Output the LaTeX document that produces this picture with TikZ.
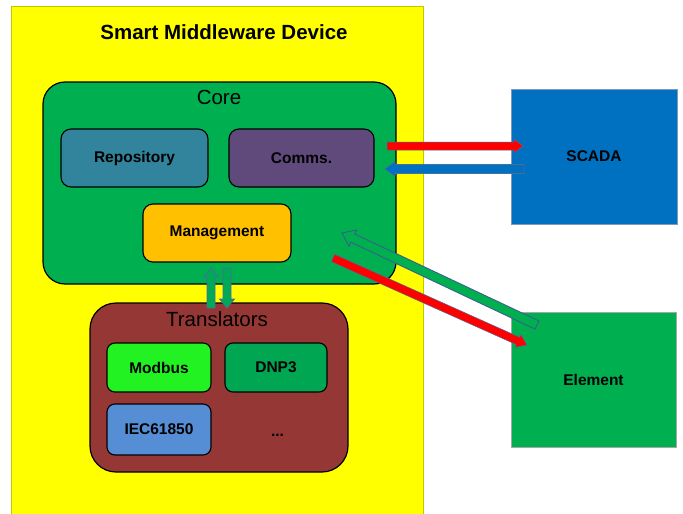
\documentclass[tikz,border=0pt]{standalone}
\usepackage{fontspec}
\setmainfont{Liberation Sans}
\usetikzlibrary{calc}

\definecolor{devyellow}{HTML}{FFFF00}
\definecolor{devedge}{HTML}{C4C400}
\definecolor{coregreen}{HTML}{00B050}
\definecolor{repoteal}{HTML}{31849B}
\definecolor{commspurple}{HTML}{604A7B}
\definecolor{mgmtorange}{HTML}{FFC000}
\definecolor{transbrown}{HTML}{953735}
\definecolor{modbusgreen}{HTML}{22F222}
\definecolor{dnpgreen}{HTML}{00A651}
\definecolor{iecblue}{HTML}{558ED5}
\definecolor{scadablue}{HTML}{0070C0}
\definecolor{arrowedge}{HTML}{4A6E9A}
\definecolor{greenedge}{HTML}{3A5F8C}

% Block arrow: #1 style, #2 tail, #3 tip, #4 half shaft width,
% #5 half head width, #6 head length
\newcommand\blockarrow[6]{%
  \coordinate (#2-neck) at ($(#3)!#6!(#2)$);
  \path[#1] ($(#2)!#4!90:(#3)$) -- ($(#2-neck)!#4!-90:(#2)$)
    -- ($(#2-neck)!#5!-90:(#2)$) -- (#3)
    -- ($(#2-neck)!#5!90:(#2)$) -- ($(#2-neck)!#4!90:(#2)$)
    -- ($(#2)!#4!-90:(#3)$) -- cycle;
}

\begin{document}
\begin{tikzpicture}[x=1pt,y=-1pt,
  box/.style={draw=black, line width=1.1pt, rounded corners=10pt,
    inner sep=0pt, outer sep=0pt,
    font=\fontsize{15.5}{18}\selectfont\bfseries},
  container/.style={draw=black, line width=1.2pt, inner sep=0pt, outer sep=0pt},
  plainbox/.style={inner sep=0pt, outer sep=0pt,
    font=\fontsize{15.5}{18}\selectfont\bfseries},
  heading/.style={font=\fontsize{20.5}{24}\selectfont},
  redarrow/.style={fill=red, draw=arrowedge, line width=0.5pt},
  bluearrow/.style={fill=scadablue, draw=arrowedge, line width=0.6pt},
  greenarrow/.style={fill=coregreen, draw=greenedge, line width=0.9pt},
  linkarrow/.style={fill=coregreen!85!teal, draw=arrowedge, line width=0.8pt}]

\useasboundingbox (0,0) rectangle (683,514);
\fill[white] (0,0) rectangle (683,514);

% Device enclosure
\node[draw=devedge, line width=0.8pt, fill=devyellow, inner sep=0pt, outer sep=0pt,
  minimum width=412pt, minimum height=516pt, anchor=north west] (device) at (11,6) {};
\node[font=\fontsize{20.5}{24}\selectfont\bfseries] (title) at (224,32) {Smart Middleware Device};

% Core block
\node[container, fill=coregreen, rounded corners=22pt,
  minimum width=353pt, minimum height=202pt] (core) at (219.5,183) {};
\node[heading] (coretitle) at (219,97.5) {Core};
\node[box, fill=repoteal, minimum width=147pt, minimum height=58pt] (repo) at (134.5,158) {Repository};
\node[box, fill=commspurple, minimum width=145pt, minimum height=58pt] (comms) at (301.5,158) {Comms.};
\node[box, fill=mgmtorange, minimum width=148pt, minimum height=58pt] (mgmt) at (217,233) {Management};

% Translators block
\node[container, fill=transbrown, rounded corners=26pt,
  minimum width=258pt, minimum height=169pt] (trans) at (219,387.5) {};
\node[heading] (transtitle) at (217,319.5) {Translators};
\node[box, fill=modbusgreen, rounded corners=8pt, minimum width=104pt, minimum height=49pt] (modbus) at (159,367.5) {Modbus};
\node[box, fill=dnpgreen, rounded corners=8pt, minimum width=102pt, minimum height=49pt] (dnp) at (276,367.5) {DNP3};
\node[box, fill=iecblue, rounded corners=8pt, minimum width=104pt, minimum height=51pt] (iec) at (159,429.5) {IEC61850};
\node[font=\fontsize{15.5}{18}\selectfont\bfseries] (more) at (277.5,435) {...};

% External systems
\node[plainbox, fill=scadablue, draw=arrowedge!70, line width=0.6pt,
  minimum width=166pt, minimum height=135pt] (scada) at (594,156.5) {SCADA};
\node[plainbox, fill=coregreen, draw=gray!70, line width=0.6pt,
  minimum width=165pt, minimum height=135pt] (element) at (593.5,379.5) {Element};

% Connector end points
\coordinate (csa) at ($(comms.east)+(13,-12)$);
\coordinate (csb) at ($(scada.west)+(12,-10.5)$);
\coordinate (sca) at ($(scada.west)+(13,12.5)$);
\coordinate (scb) at ($(comms.east)+(11,11)$);
\coordinate (ema) at ($(element.north west)+(26,13)$);
\coordinate (emb) at ($(mgmt.east)+(51,0)$);
\coordinate (mea) at ($(mgmt.east)+(42,25)$);
\coordinate (meb) at ($(element.north west)+(16,33)$);
\coordinate (upa) at ($(mgmt.south)+(-6,46)$);
\coordinate (upb) at ($(mgmt.south)+(-6,6)$);
\coordinate (dna) at ($(mgmt.south)+(10,6)$);
\coordinate (dnb) at ($(mgmt.south)+(10,46)$);

% Connectors
\blockarrow{redarrow}{csa}{csb}{4pt}{7pt}{9pt}
\blockarrow{bluearrow}{sca}{scb}{4.5pt}{7.5pt}{10pt}
\blockarrow{greenarrow}{ema}{emb}{4.5pt}{9pt}{12pt}
\blockarrow{redarrow}{mea}{meb}{4pt}{7pt}{10pt}
\blockarrow{linkarrow}{upa}{upb}{4pt}{7.5pt}{9pt}
\blockarrow{linkarrow}{dna}{dnb}{4pt}{7.5pt}{9pt}

\end{tikzpicture}
\end{document}
